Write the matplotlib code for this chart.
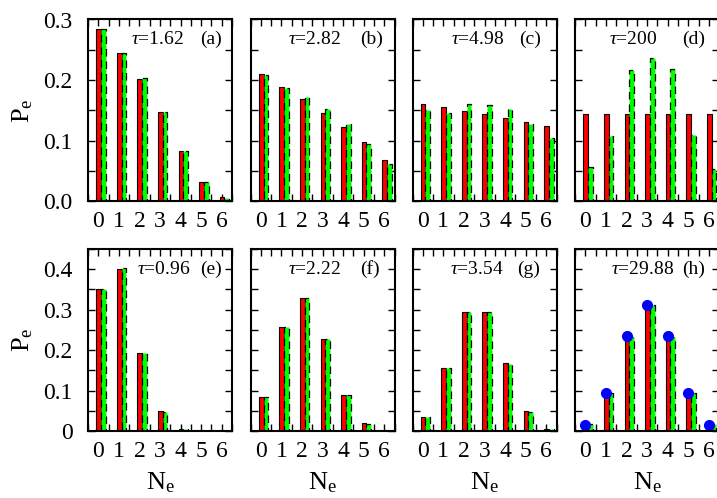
import numpy as np
import matplotlib
matplotlib.use("Agg")
import matplotlib.pyplot as plt

plt.rcParams["font.family"] = ["Liberation Serif", "DejaVu Serif"]
plt.rcParams["mathtext.fontset"] = "custom"
plt.rcParams["mathtext.rm"] = "Liberation Serif"
plt.rcParams["mathtext.it"] = "Liberation Serif:italic"

n_e = np.arange(7)

# panel data: red (solid) and green (dashed) bars
red_a = [0.285, 0.245, 0.202, 0.147, 0.083, 0.031, 0.007]
green_a = [0.284, 0.245, 0.204, 0.147, 0.082, 0.031, 0.005]
red_b = [0.210, 0.189, 0.168, 0.146, 0.122, 0.097, 0.067]
green_b = [0.208, 0.186, 0.172, 0.152, 0.127, 0.094, 0.061]
red_c = [0.161, 0.155, 0.149, 0.143, 0.137, 0.130, 0.124]
green_c = [0.150, 0.145, 0.161, 0.158, 0.152, 0.127, 0.104]
red_d = [0.143, 0.143, 0.143, 0.143, 0.143, 0.143, 0.143]
green_d = [0.056, 0.107, 0.216, 0.237, 0.218, 0.109, 0.053]

red_e = [0.350, 0.401, 0.192, 0.049, 0.006, 0.0, 0.0]
green_e = [0.350, 0.402, 0.192, 0.048, 0.006, 0.0, 0.0]
red_f = [0.083, 0.256, 0.329, 0.227, 0.088, 0.020, 0.0]
green_f = [0.083, 0.256, 0.330, 0.227, 0.088, 0.018, 0.0]
red_g = [0.035, 0.155, 0.294, 0.294, 0.167, 0.050, 0.006]
green_g = [0.034, 0.157, 0.294, 0.294, 0.165, 0.048, 0.005]
red_h = [0.015, 0.094, 0.233, 0.311, 0.233, 0.093, 0.015]
green_h = [0.017, 0.093, 0.233, 0.312, 0.233, 0.093, 0.017]
dots_h = [0.0156, 0.0938, 0.2344, 0.3125, 0.2344, 0.0938, 0.0156]

taus = ["1.62", "2.82", "4.98", "200", "0.96", "2.22", "3.54", "29.88"]
letters = ["a", "b", "c", "d", "e", "f", "g", "h"]
reds = [red_a, red_b, red_c, red_d, red_e, red_f, red_g, red_h]
greens = [green_a, green_b, green_c, green_d, green_e, green_f, green_g, green_h]

# where the annotations sit in each panel (axes fraction)
tau_right = [0.67, 0.63, 0.635, 0.57, 0.71, 0.63, 0.635, 0.69]
letter_left = [0.78, 0.76, 0.74, 0.74, 0.78, 0.76, 0.73, 0.74]

W, H = 717, 498
fig = plt.figure(figsize=(W / 100, H / 100), dpi=100)

lefts = [88, 250.6, 412.5, 575.2]
axw = 144
rows = [(19.5, 201.0), (249.0, 431.0)]

for k in range(8):
    r, c = divmod(k, 4)
    top, bot = rows[r]
    ax = fig.add_axes([lefts[c] / W, 1 - bot / H, axw / W, (bot - top) / H])
    ax.set_axisbelow(True)

    ax.bar(n_e - 0.1, reds[k], width=0.23, align="edge", color="#ff0000",
           edgecolor="black", linewidth=0.8, zorder=2)
    ax.bar(n_e + 0.13, greens[k], width=0.23, align="edge", color="#00ff00",
           edgecolor="black", linewidth=0.9, linestyle=(0, (6, 4)), zorder=2)
    if k == 7:
        ax.plot(n_e, dots_h, "o", color="#0000ff", ms=7, zorder=3, clip_on=False)

    ax.set_xlim(-0.5, 6.5)
    ax.set_xticks(n_e)
    ax.set_xticks(np.arange(-0.5, 6.6, 0.5), minor=True)
    if r == 0:
        ax.set_ylim(0, 0.3)
        ax.set_yticks([0, 0.1, 0.2, 0.3])
        ax.set_yticklabels(["0.0", "0.1", "0.2", "0.3"])
        ax.set_yticks(np.arange(0, 0.31, 0.05), minor=True)
    else:
        ax.set_ylim(0, 0.45)
        ax.set_yticks([0, 0.1, 0.2, 0.3, 0.4])
        ax.set_yticklabels(["0", "0.1", "0.2", "0.3", "0.4"])
        ax.set_yticks(np.arange(0, 0.46, 0.05), minor=True)

    ax.tick_params(which="both", direction="in", top=True, right=True,
                   length=5, width=1, labelsize=17)
    ax.tick_params(axis="x", pad=7)
    ax.tick_params(axis="y", pad=11)
    if c != 0:
        ax.set_yticklabels([])
    else:
        ax.set_ylabel("P$_\\mathrm{e}$", fontsize=19)
        ax.yaxis.set_label_coords(-0.37, 0.5)
    if r == 1:
        ax.set_xlabel("N$_\\mathrm{e}$", fontsize=19)
        ax.xaxis.set_label_coords(0.5, -0.215)
    for sp in ax.spines.values():
        sp.set_linewidth(1.5)
        sp.set_zorder(4)

    ax.text(tau_right[k], 0.89, "$\\tau$=" + taus[k], transform=ax.transAxes,
            ha="right", va="center", fontsize=14)
    ax.text(letter_left[k], 0.89, "(" + letters[k] + ")", transform=ax.transAxes,
            ha="left", va="center", fontsize=14)

fig.savefig("out.png", dpi=100)
